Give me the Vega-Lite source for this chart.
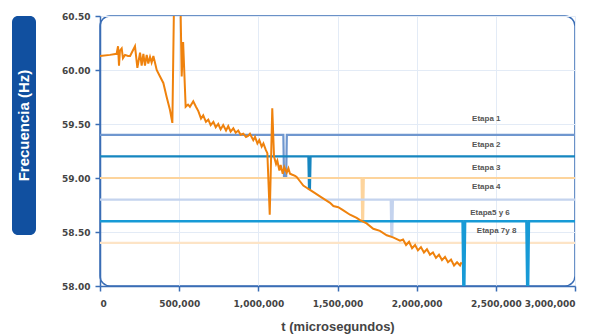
{
  "$schema": "https://vega.github.io/schema/vega-lite/v6.json",
  "padding": {"left": 12, "top": 11, "right": 5, "bottom": 2},
  "background": "white",
  "spacing": 64,
  "bounds": "flush",
  "config": {"font": "Liberation Sans"},
  "datasets": {
    "freq": [
      {"t": 0, "f": 60.13}, {"t": 63000, "f": 60.14}, {"t": 105000, "f": 60.15}, {"t": 114000, "f": 60.22},
      {"t": 120000, "f": 60.04}, {"t": 126000, "f": 60.18}, {"t": 137000, "f": 60.2}, {"t": 145000, "f": 60.11},
      {"t": 158000, "f": 60.14}, {"t": 177000, "f": 60.13}, {"t": 190000, "f": 60.13}, {"t": 221000, "f": 60.22},
      {"t": 236000, "f": 60.02}, {"t": 253000, "f": 60.16}, {"t": 263000, "f": 60.04}, {"t": 274000, "f": 60.15},
      {"t": 284000, "f": 60.04}, {"t": 295000, "f": 60.14}, {"t": 305000, "f": 60.06}, {"t": 316000, "f": 60.12},
      {"t": 326000, "f": 60.07}, {"t": 337000, "f": 60.13}, {"t": 347000, "f": 60.07}, {"t": 358000, "f": 60.0},
      {"t": 379000, "f": 59.94}, {"t": 400000, "f": 59.88}, {"t": 421000, "f": 59.75}, {"t": 442000, "f": 59.63},
      {"t": 457000, "f": 59.51}, {"t": 470000, "f": 60.9}, {"t": 505000, "f": 60.9}, {"t": 516000, "f": 59.94},
      {"t": 525000, "f": 60.26}, {"t": 541000, "f": 59.66}, {"t": 556000, "f": 59.68}, {"t": 568000, "f": 59.66},
      {"t": 589000, "f": 59.71}, {"t": 606000, "f": 59.66}, {"t": 621000, "f": 59.62}, {"t": 638000, "f": 59.55},
      {"t": 652000, "f": 59.58}, {"t": 669000, "f": 59.52}, {"t": 684000, "f": 59.54}, {"t": 699000, "f": 59.49},
      {"t": 716000, "f": 59.52}, {"t": 731000, "f": 59.47}, {"t": 747000, "f": 59.5}, {"t": 762000, "f": 59.45},
      {"t": 778000, "f": 59.49}, {"t": 796000, "f": 59.44}, {"t": 810000, "f": 59.48}, {"t": 825000, "f": 59.43},
      {"t": 842000, "f": 59.46}, {"t": 857000, "f": 59.42}, {"t": 873000, "f": 59.44}, {"t": 888000, "f": 59.4},
      {"t": 905000, "f": 59.41}, {"t": 922000, "f": 59.38}, {"t": 935000, "f": 59.39}, {"t": 947000, "f": 59.41},
      {"t": 968000, "f": 59.35}, {"t": 979000, "f": 59.38}, {"t": 994000, "f": 59.32}, {"t": 1006000, "f": 59.35},
      {"t": 1021000, "f": 59.29}, {"t": 1032000, "f": 59.32}, {"t": 1047000, "f": 59.26}, {"t": 1057000, "f": 59.23},
      {"t": 1072000, "f": 58.66}, {"t": 1088000, "f": 59.645}, {"t": 1099000, "f": 59.2}, {"t": 1112000, "f": 59.13},
      {"t": 1120000, "f": 59.16}, {"t": 1133000, "f": 59.07}, {"t": 1141000, "f": 59.12}, {"t": 1154000, "f": 59.04},
      {"t": 1164000, "f": 59.1}, {"t": 1179000, "f": 59.05}, {"t": 1190000, "f": 59.09}, {"t": 1200000, "f": 59.04},
      {"t": 1215000, "f": 59.03}, {"t": 1232000, "f": 59.02}, {"t": 1242000, "f": 59.01}, {"t": 1263000, "f": 58.97},
      {"t": 1284000, "f": 58.93}, {"t": 1305000, "f": 58.91}, {"t": 1326000, "f": 58.89}, {"t": 1358000, "f": 58.86},
      {"t": 1389000, "f": 58.83}, {"t": 1421000, "f": 58.8}, {"t": 1453000, "f": 58.77}, {"t": 1474000, "f": 58.74},
      {"t": 1505000, "f": 58.73}, {"t": 1537000, "f": 58.7}, {"t": 1579000, "f": 58.66}, {"t": 1621000, "f": 58.63},
      {"t": 1642000, "f": 58.61}, {"t": 1684000, "f": 58.58}, {"t": 1726000, "f": 58.53}, {"t": 1768000, "f": 58.51},
      {"t": 1811000, "f": 58.47}, {"t": 1851000, "f": 58.45}, {"t": 1895000, "f": 58.42}, {"t": 1914000, "f": 58.43},
      {"t": 1933000, "f": 58.38}, {"t": 1952000, "f": 58.41}, {"t": 1971000, "f": 58.35}, {"t": 1990000, "f": 58.38},
      {"t": 2008000, "f": 58.33}, {"t": 2027000, "f": 58.36}, {"t": 2046000, "f": 58.31}, {"t": 2065000, "f": 58.34},
      {"t": 2084000, "f": 58.29}, {"t": 2103000, "f": 58.31}, {"t": 2122000, "f": 58.26}, {"t": 2141000, "f": 58.29},
      {"t": 2160000, "f": 58.24}, {"t": 2179000, "f": 58.27}, {"t": 2198000, "f": 58.22}, {"t": 2217000, "f": 58.245},
      {"t": 2236000, "f": 58.19}, {"t": 2255000, "f": 58.22}, {"t": 2274000, "f": 58.19}, {"t": 2283000, "f": 58.22}
    ],
    "etapas": [
      {"etapa": "Etapa 1", "t": 0, "f": 59.4}, {"etapa": "Etapa 1", "t": 1158000, "f": 59.4},
      {"etapa": "Etapa 1", "t": 1162000, "f": 59.02}, {"etapa": "Etapa 1", "t": 1176000, "f": 59.02},
      {"etapa": "Etapa 1", "t": 1180000, "f": 59.4}, {"etapa": "Etapa 1", "t": 3000000, "f": 59.4},
      {"etapa": "Etapa 2", "t": 0, "f": 59.2}, {"etapa": "Etapa 2", "t": 1316000, "f": 59.2},
      {"etapa": "Etapa 2", "t": 1320000, "f": 58.9}, {"etapa": "Etapa 2", "t": 1326000, "f": 58.9},
      {"etapa": "Etapa 2", "t": 1330000, "f": 59.2}, {"etapa": "Etapa 2", "t": 3000000, "f": 59.2},
      {"etapa": "Etapa 3", "t": 0, "f": 59.0}, {"etapa": "Etapa 3", "t": 1652000, "f": 59.0},
      {"etapa": "Etapa 3", "t": 1656000, "f": 58.61}, {"etapa": "Etapa 3", "t": 1662000, "f": 58.61},
      {"etapa": "Etapa 3", "t": 1666000, "f": 59.0}, {"etapa": "Etapa 3", "t": 3000000, "f": 59.0},
      {"etapa": "Etapa 4", "t": 0, "f": 58.8}, {"etapa": "Etapa 4", "t": 1836000, "f": 58.8},
      {"etapa": "Etapa 4", "t": 1840000, "f": 58.47}, {"etapa": "Etapa 4", "t": 1846000, "f": 58.47},
      {"etapa": "Etapa 4", "t": 1850000, "f": 58.8}, {"etapa": "Etapa 4", "t": 3000000, "f": 58.8},
      {"etapa": "Etapa 7 y 8", "t": 0, "f": 58.4}, {"etapa": "Etapa 7 y 8", "t": 3000000, "f": 58.4},
      {"etapa": "Etapa 5 y 6", "t": 0, "f": 58.6}, {"etapa": "Etapa 5 y 6", "t": 2290000, "f": 58.6},
      {"etapa": "Etapa 5 y 6", "t": 2295000, "f": 58.0}, {"etapa": "Etapa 5 y 6", "t": 2301000, "f": 58.0},
      {"etapa": "Etapa 5 y 6", "t": 2306000, "f": 58.6}, {"etapa": "Etapa 5 y 6", "t": 2693000, "f": 58.6},
      {"etapa": "Etapa 5 y 6", "t": 2698000, "f": 58.0}, {"etapa": "Etapa 5 y 6", "t": 2704000, "f": 58.0},
      {"etapa": "Etapa 5 y 6", "t": 2709000, "f": 58.6}, {"etapa": "Etapa 5 y 6", "t": 3000000, "f": 58.6}
    ],
    "labels": [
      {"label": "Etapa 1", "t": 2440000, "f": 59.544},
      {"label": "Etapa 2", "t": 2440000, "f": 59.306},
      {"label": "Etapa 3", "t": 2440000, "f": 59.09},
      {"label": "Etapa 4", "t": 2440000, "f": 58.92},
      {"label": "Etapa5 y 6", "t": 2463000, "f": 58.673},
      {"label": "Etapa 7y 8", "t": 2505000, "f": 58.509}
    ]
  },
  "hconcat": [
    {
      "width": 24,
      "height": 219,
      "view": {"fill": "#1150a0", "stroke": null, "cornerRadius": 6},
      "data": {"values": [{"label": "Frecuencia (Hz)"}]},
      "mark": {"type": "text", "angle": 270, "color": "white", "font": "Liberation Sans", "fontWeight": "bold", "fontSize": 15, "align": "center", "baseline": "middle"},
      "encoding": {"text": {"field": "label"}}
    },
    {
      "width": 475,
      "height": 270,
      "view": {"stroke": "#3a6db5", "strokeWidth": 1.5, "cornerRadius": 10},
      "encoding": {
        "x": {
          "field": "t", "type": "quantitative",
          "scale": {"domain": [0, 3000000], "nice": false},
          "axis": {
            "title": "t (microsegundos)", "tickCount": 6, "format": ",d",
            "domainColor": "#3a6db5", "domainWidth": 1.5, "tickColor": "#3a6db5", "tickWidth": 1.5, "tickSize": 5,
            "gridColor": "#e3ebf6", "gridWidth": 1,
            "labelFont": "DejaVu Sans", "labelFontWeight": "bold", "labelFontSize": 9, "labelColor": "#444444", "labelPadding": 8,
            "titleFont": "Liberation Sans", "titleFontWeight": "bold", "titleFontSize": 13, "titleColor": "#444444", "titlePadding": 12
          }
        },
        "y": {
          "field": "f", "type": "quantitative",
          "scale": {"domain": [58, 60.5], "nice": false},
          "axis": {
            "title": null, "tickCount": 5, "format": ".2f",
            "domainColor": "#3a6db5", "domainWidth": 1.5, "tickColor": "#3a6db5", "tickWidth": 1.5, "tickSize": 5,
            "gridColor": "#e3ebf6", "gridWidth": 1,
            "labelFont": "DejaVu Sans", "labelFontWeight": "bold", "labelFontSize": 9, "labelColor": "#444444", "labelPadding": 5
          }
        }
      },
      "layer": [
        {
          "data": {"name": "etapas"},
          "transform": [{"filter": "datum.etapa != 'Etapa 5 y 6'"}],
          "mark": {"type": "line", "strokeWidth": 2.2, "clip": true},
          "encoding": {
            "color": {
              "field": "etapa", "type": "nominal", "legend": null,
              "scale": {
                "domain": ["Etapa 1", "Etapa 2", "Etapa 3", "Etapa 4", "Etapa 5 y 6", "Etapa 7 y 8"],
                "range": ["#6f97cf", "#1686c0", "#fdd49c", "#c4d3ee", "#179ad6", "#fde4c6"]
              }
            }
          }
        },
        {
          "data": {"name": "etapas"},
          "transform": [{"filter": "datum.etapa == 'Etapa 5 y 6'"}],
          "mark": {"type": "line", "strokeWidth": 2.5, "clip": true},
          "encoding": {
            "color": {"field": "etapa", "type": "nominal", "legend": null}
          }
        },
        {
          "data": {"name": "freq"},
          "mark": {"type": "line", "color": "#ef820d", "strokeWidth": 2, "clip": true},
          "encoding": {}
        },
        {
          "data": {"name": "labels"},
          "mark": {"type": "text", "font": "Liberation Sans", "fontWeight": "bold", "fontSize": 8, "color": "#555555"},
          "encoding": {"text": {"field": "label"}}
        }
      ]
    }
  ]
}
